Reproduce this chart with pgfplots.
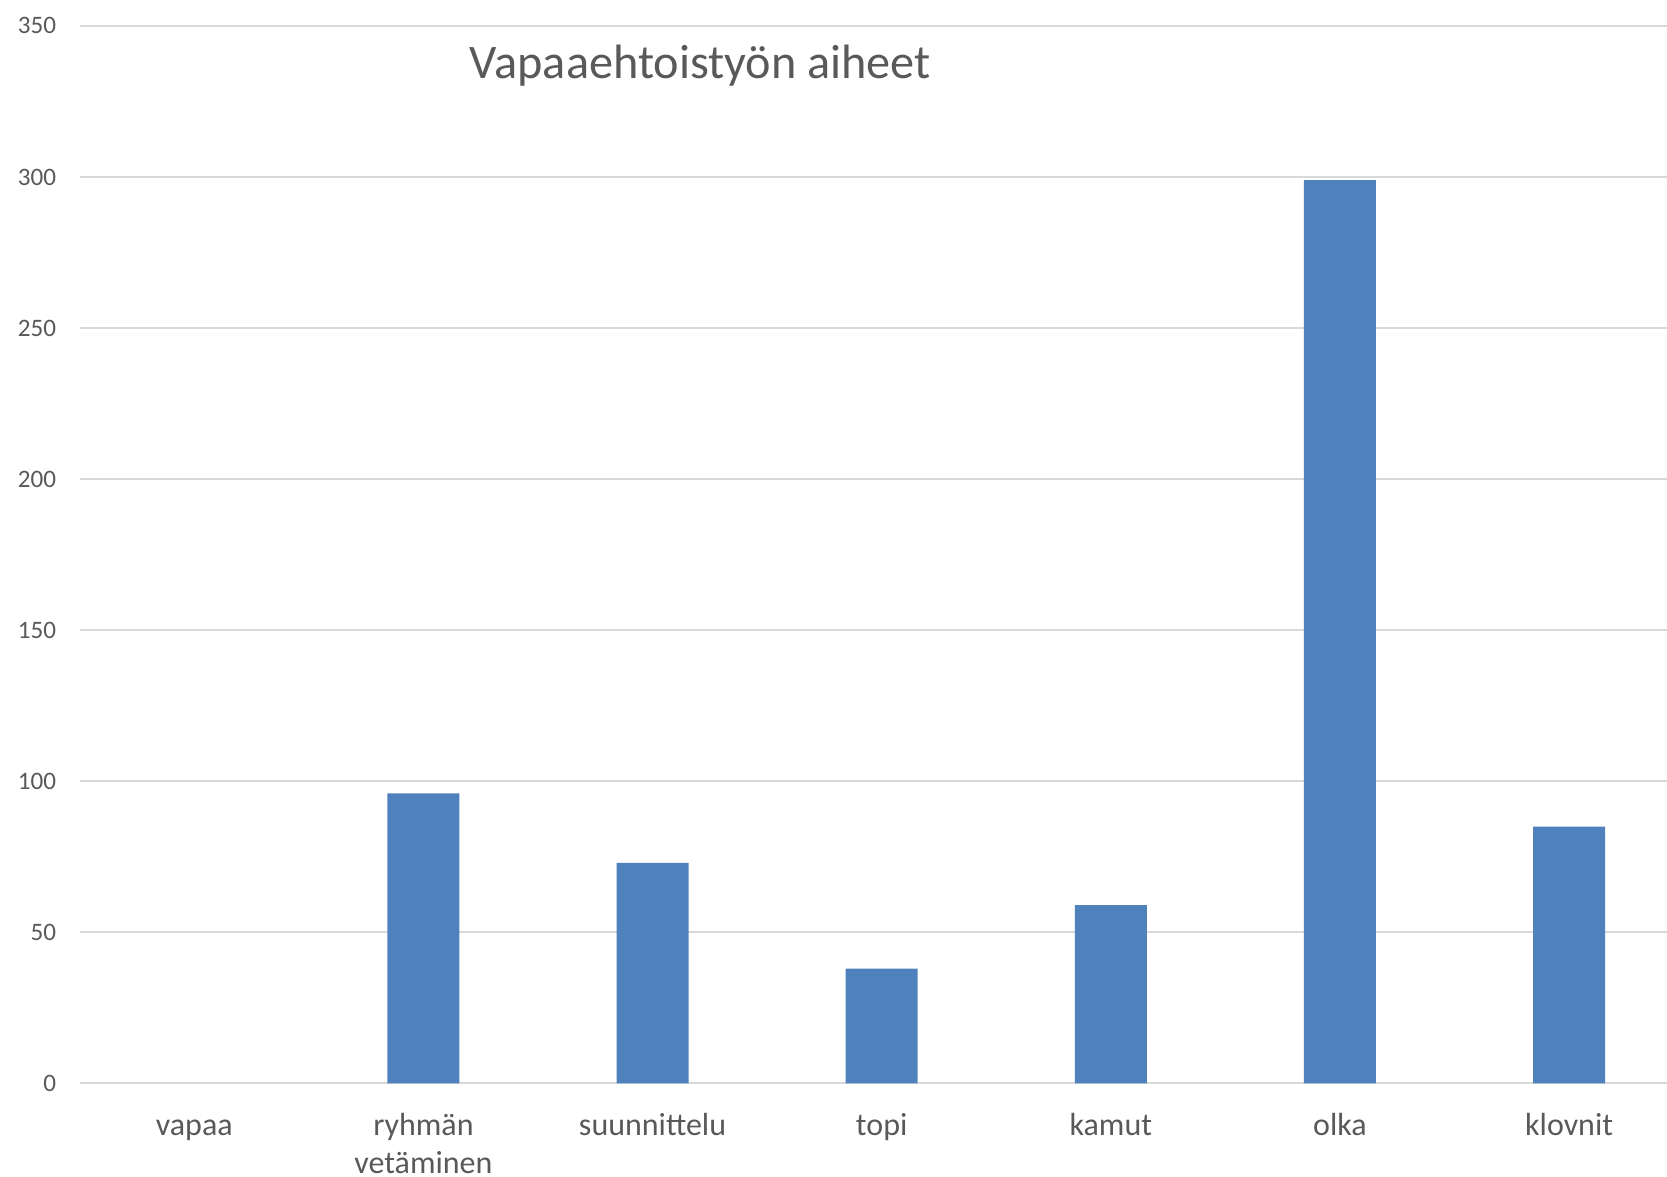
\documentclass[border=0pt]{standalone}
\usepackage{pgfplots}
\pgfplotsset{compat=1.18}
\usepackage{fontspec}
\setmainfont{Carlito}
\definecolor{txt}{HTML}{595959}
\definecolor{barblue}{HTML}{4F81BD}
\definecolor{gridc}{HTML}{D9D9D9}
\begin{document}
\begin{tikzpicture}[x=1pt,y=1pt]
\useasboundingbox (0,0) rectangle (750.15,529.65);
\clip (0,0) rectangle (750.15,529.65);
\begin{axis}[
  at={(35.87pt,42.08pt)}, anchor=south west,
  scale only axis, width=721.8pt, height=475.9pt,
  xmin=-0.5, xmax=6.5, ymin=0, ymax=350,
  ytick={0,50,...,350},
  xtick={0,1,2,3,4,5,6},
  xticklabels={vapaa, {\begin{tabular}[t]{@{}c@{}}ryhmän\\vetäminen\end{tabular}}, suunnittelu, topi, kamut, olka, klovnit},
  axis line style={draw=none},
  tick style={draw=none},
  ymajorgrids, grid style={gridc, line width=0.9pt},
  /pgf/number format/assume math mode=true,
  yticklabel style={font=\fontsize{11.3}{13}\selectfont, text=txt, anchor=east, inner sep=0pt, xshift=-10.4pt},
  xticklabel style={font=\fontsize{14.4}{17.2}\selectfont, text=txt, anchor=base, inner sep=0pt, yshift=-23.5pt},
  clip=false,
]
\addplot[ybar, bar width=32.4pt, fill=barblue, draw=none] coordinates {
 (1,96) (2,73) (3,38) (4,59) (5,299) (6,85)
};
\end{axis}
\node[anchor=base, text=txt, font=\fontsize{21.7}{25}\selectfont, inner sep=0pt] at (315.2,494.4) {Vapaaehtoistyön aiheet};
\end{tikzpicture}
\end{document}
